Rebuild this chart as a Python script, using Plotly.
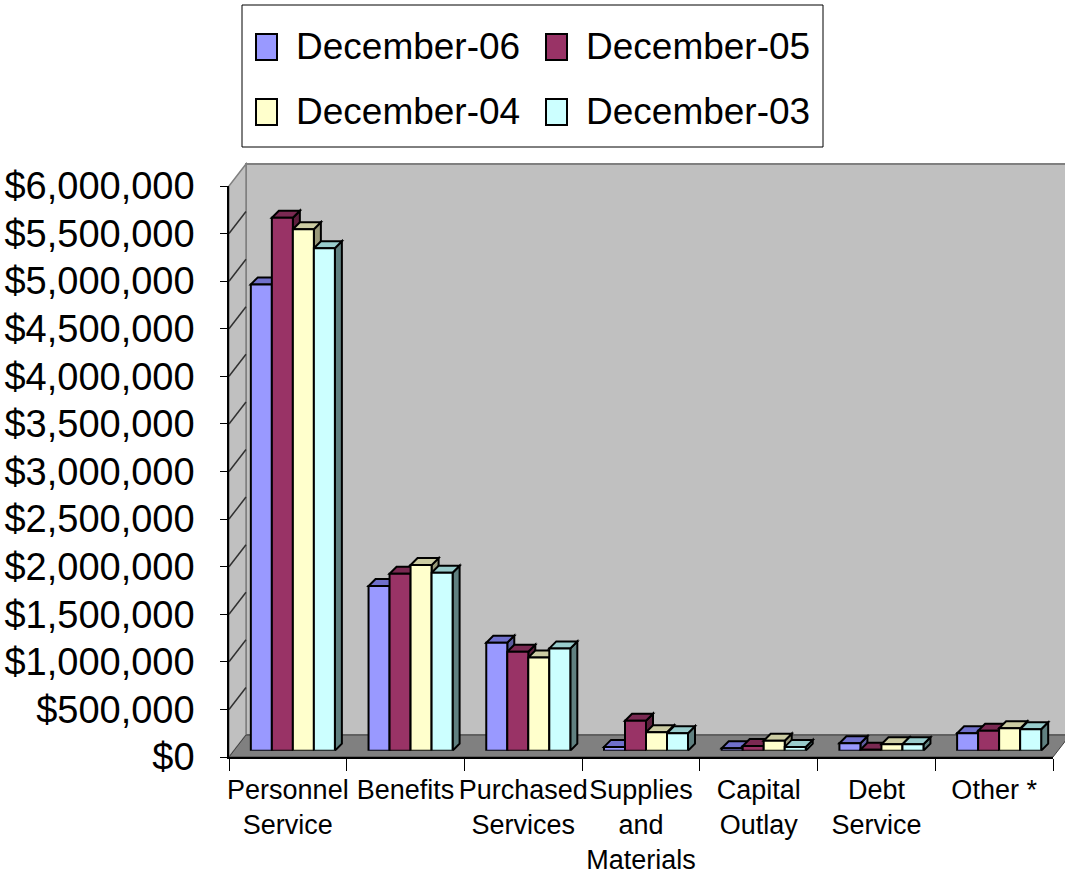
import plotly.graph_objects as go

# ---------------- data ----------------
categories = ["Personnel<br>Service", "Benefits", "Purchased<br>Services",
              "Supplies<br>and<br>Materials", "Capital<br>Outlay", "Debt<br>Service", "Other *"]
series_names = ["December-06", "December-05", "December-04", "December-03"]
dec06 = [4900000, 1730000, 1135000, 40000, 25000, 78000, 183000]
dec05 = [5600000, 1860000, 1040000, 315000, 50000, 10000, 210000]
dec04 = [5480000, 1950000, 980000, 193000, 105000, 67000, 235000]
dec03 = [5280000, 1870000, 1075000, 183000, 40000, 67000, 225000]
y_tick_values = list(range(0, 6000001, 500000))
y_tick_labels = [f"${v:,}" for v in y_tick_values]
series_values = [dec06, dec05, dec04, dec03]

# ---------------- style ----------------
front_colors = ["#9999FF", "#993366", "#FFFFCC", "#CCFFFF"]
top_colors = ["#7070CC", "#7A2952", "#CCCCA3", "#99CCCC"]
side_colors = ["#5C5CA0", "#5C1F3D", "#99997A", "#608080"]
FONT = "Liberation Sans, Arial, sans-serif"

W, H = 1065, 890
FX0, FX1 = 229, 1053      # front x-axis extent (px)
FY0, FY1 = 757, 186       # front y-axis: $0 and $6M (px)
DX, DY = 17, 22           # oblique depth offset of back wall (px)
BX, BY = 5, 6.3           # offset of bars' front plane (px)
BDX, BDY = 7, 7           # depth of bars (px)
YMAX = 6000000
BARGAP = 0.286

def px(x):
    return x / W

def py(y):
    return 1 - y / H

cat_px = (FX1 - FX0) / len(categories)
val_px = (FY0 - FY1) / YMAX

fig = go.Figure()

# invisible trace establishing front category axis
fig.add_trace(go.Scatter(x=categories, y=[0] * len(categories), xaxis="x2", yaxis="y2",
                         mode="markers", marker=dict(opacity=0), hoverinfo="skip",
                         showlegend=False))

# bars (front faces)
for name, vals, col in zip(series_names, series_values, front_colors):
    fig.add_trace(go.Bar(x=categories, y=vals, name=name, xaxis="x3", yaxis="y3",
                         marker=dict(color=col, line=dict(color="black", width=2)),
                         showlegend=False))

shapes = []
# back wall
shapes.append(dict(type="rect", xref="paper", yref="paper", layer="below",
                   x0=px(FX0 + DX), x1=px(FX1 + DX), y0=py(FY0 - DY), y1=py(FY1 - DY),
                   fillcolor="#C0C0C0", line=dict(color="#808080", width=2)))
# side wall
shapes.append(dict(type="path", xref="paper", yref="paper", layer="below",
                   path=f"M {px(FX0)},{py(FY0)} L {px(FX0)},{py(FY1)} L {px(FX0+DX)},{py(FY1-DY)} "
                        f"L {px(FX0+DX)},{py(FY0-DY)} Z",
                   fillcolor="#C0C0C0", line=dict(color="#808080", width=1.5)))
# floor
shapes.append(dict(type="path", xref="paper", yref="paper", layer="below",
                   path=f"M {px(FX0)},{py(FY0)} L {px(FX0+DX)},{py(FY0-DY)} L {px(FX1+DX)},{py(FY0-DY)} "
                        f"L {px(FX1)},{py(FY0)} Z",
                   fillcolor="#808080", line=dict(color="#404040", width=1)))
# side wall gridlines
dy_val = DY / val_px
for v in y_tick_values[1:-1]:
    shapes.append(dict(type="line", xref="paper", yref="y2", layer="below",
                       x0=px(FX0), x1=px(FX0 + DX), y0=v, y1=v + dy_val,
                       line=dict(color="#303030", width=1.5)))

# 3D faces of bars
n = len(series_names)
bw = (1 - BARGAP) / n
dxu = BDX / cat_px
dyv = BDY / val_px
for i in range(len(categories)):
    for j in range(n):
        c = i + (j - (n - 1) / 2) * bw
        x0, x1 = c - bw / 2, c + bw / 2
        v = series_values[j][i]
        shapes.append(dict(type="path", xref="x3", yref="y3", layer="below",
                           path=f"M {x1},0 L {x1},{v} L {x1+dxu},{v+dyv} L {x1+dxu},{dyv} Z",
                           fillcolor=side_colors[j], line=dict(color="black", width=2)))
        shapes.append(dict(type="path", xref="x3", yref="y3", layer="below",
                           path=f"M {x0},{v} L {x1},{v} L {x1+dxu},{v+dyv} L {x0+dxu},{v+dyv} Z",
                           fillcolor=top_colors[j], line=dict(color="black", width=2)))

# manual legend
LX0, LX1, LY0, LY1 = 242, 823, 5, 147
shapes.append(dict(type="rect", xref="paper", yref="paper", layer="above",
                   x0=px(LX0), x1=px(LX1), y0=py(LY1), y1=py(LY0),
                   fillcolor="white", line=dict(color="black", width=1)))
annotations = []
leg_pos = [(256, 47), (546, 47), (256, 112), (546, 112)]
for (lx, ly), name, col in zip(leg_pos, series_names, front_colors):
    shapes.append(dict(type="rect", xref="paper", yref="paper", layer="above",
                       x0=px(lx), x1=px(lx + 21), y0=py(ly + 13), y1=py(ly - 13),
                       fillcolor=col, line=dict(color="black", width=2)))
    annotations.append(dict(xref="paper", yref="paper", x=px(lx + 38), y=py(ly),
                            xanchor="left", yanchor="middle", showarrow=False,
                            text=name, font=dict(family=FONT, size=37, color="black")))

fig.update_layout(
    width=W, height=H, autosize=False,
    margin=dict(l=0, r=0, t=0, b=0, autoexpand=False),
    paper_bgcolor="white", plot_bgcolor="rgba(0,0,0,0)",
    barmode="group", bargap=BARGAP, bargroupgap=0,
    showlegend=False,
    shapes=shapes, annotations=annotations,
    # back wall subplot (gridlines)
    xaxis=dict(domain=[px(FX0 + DX), 1], range=[0, 1], showgrid=False, zeroline=False,
               showticklabels=False, ticks="", showline=False, anchor="y", automargin=False),
    yaxis=dict(domain=[py(FY0 - DY), py(FY1 - DY)], range=[0, YMAX], anchor="x",
               tickvals=y_tick_values[1:-1], showgrid=True, gridcolor="#303030", gridwidth=1.5,
               zeroline=False, showticklabels=False, ticks="", showline=False, automargin=False),
    # front axes (labels)
    xaxis2=dict(domain=[px(FX0), px(FX1)], anchor="y2", type="category",
                range=[-0.5, len(categories) - 0.5], tickson="boundaries",
                ticks="outside", ticklen=12, tickcolor="black", tickwidth=1, tickangle=0,
                showline=True, linecolor="black", linewidth=1.5, showgrid=False, zeroline=False,
                automargin=False, ticklabelstandoff=8,
                tickfont=dict(family=FONT, size=27, color="black")),
    yaxis2=dict(domain=[py(FY0), py(FY1)], anchor="x2", range=[0, YMAX],
                tickvals=y_tick_values, ticktext=y_tick_labels,
                ticks="outside", ticklen=7, tickcolor="black", tickwidth=1,
                showline=True, linecolor="black", linewidth=1.5, showgrid=False, zeroline=False,
                ticklabelstandoff=18, automargin=False,
                tickfont=dict(family=FONT, size=38, color="black")),
    # bars plane
    xaxis3=dict(domain=[px(FX0 + BX), px(FX1 + BX)], anchor="y3", type="category",
                range=[-0.5, len(categories) - 0.5], visible=False, automargin=False),
    yaxis3=dict(domain=[py(FY0 - BY), py(FY1 - BY)], anchor="x3", range=[0, YMAX],
                visible=False, automargin=False),
)

fig.write_html("out.html")
